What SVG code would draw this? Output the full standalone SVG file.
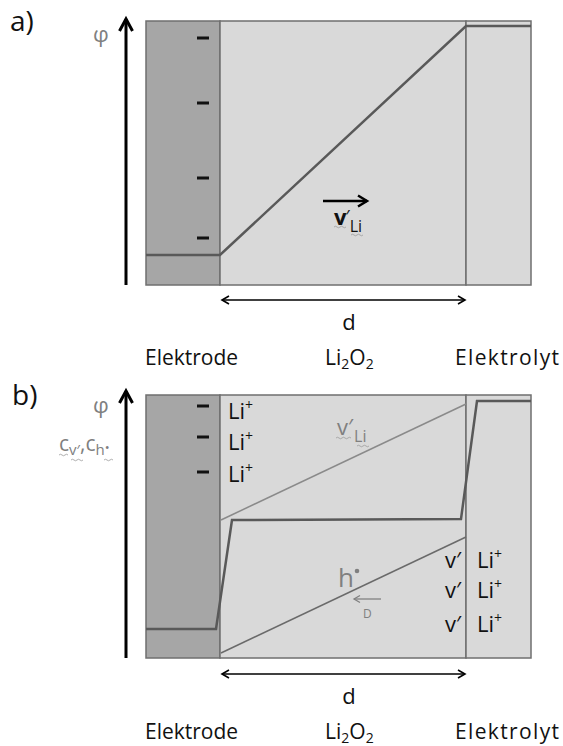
<svg xmlns="http://www.w3.org/2000/svg" width="563" height="746" viewBox="0 0 563 746">
<defs>
<style>
text{font-family:"Open Sans","Noto Sans","Liberation Sans",sans-serif;}
.el{fill:#a6a6a6;stroke:#6f6f6f;stroke-width:1.5;}
.li{fill:#d9d9d9;stroke:#6f6f6f;stroke-width:1.5;}
.curve{fill:none;stroke:#595959;stroke-width:2.5;stroke-linejoin:miter;}
.thin{fill:none;stroke:#6a6a6a;stroke-width:1.5;}
.grey{fill:#808080;}
.blk{fill:#111;}
.dash{stroke:#111;stroke-width:3;}
.wave{fill:none;stroke:#9a9a9a;stroke-width:0.8;}
.lbl{font-size:21px;}
</style>
<marker id="ax" markerUnits="userSpaceOnUse" viewBox="-16 -10 20 20" markerWidth="20" markerHeight="20" refX="0" refY="0" orient="auto" overflow="visible">
<path d="M-12,-6.5 L0,0 L-12,6.5" fill="none" stroke="#000" stroke-width="3"/>
</marker>
<marker id="dm" markerUnits="userSpaceOnUse" viewBox="-10 -6 12 12" markerWidth="12" markerHeight="12" refX="0" refY="0" orient="auto-start-reverse" overflow="visible">
<path d="M-7,-4 L0,0 L-7,4" fill="none" stroke="#000" stroke-width="1.6"/>
</marker>
<marker id="vm" markerUnits="userSpaceOnUse" viewBox="-12 -8 14 16" markerWidth="14" markerHeight="16" refX="0" refY="0" orient="auto" overflow="visible">
<path d="M-9,-5.5 L0,0 L-9,5.5" fill="none" stroke="#000" stroke-width="2.5"/>
</marker>
<marker id="gm" markerUnits="userSpaceOnUse" viewBox="-8 -5 10 10" markerWidth="10" markerHeight="10" refX="0" refY="0" orient="auto" overflow="visible">
<path d="M-6,-3.5 L0,0 L-6,3.5" fill="none" stroke="#808080" stroke-width="1.3"/>
</marker>
</defs>

<!-- Panel a -->
<g id="panel-a">
<text x="10" y="31" font-size="28" class="blk">a)</text>
<text x="101" y="42" font-size="22" text-anchor="middle" class="grey">φ</text>
<g id="a-electrode"><rect class="el" x="146" y="21" width="74" height="264"/></g>
<g id="a-li2o2"><rect class="li" x="220" y="21" width="246" height="264"/></g>
<g id="a-electrolyte"><rect class="li" x="466" y="21" width="65" height="264"/></g>
<g id="a-charges">
<line class="dash" x1="197" y1="38" x2="209" y2="38"/>
<line class="dash" x1="197" y1="103" x2="209" y2="103"/>
<line class="dash" x1="197" y1="178" x2="209" y2="178"/>
<line class="dash" x1="197" y1="238" x2="209" y2="238"/>
</g>
<g id="a-vLi">
<text x="334" y="225" font-size="22" class="blk"><tspan font-weight="bold">v</tspan><tspan dx="-1" dy="-2" font-size="18">′</tspan><tspan dx="0" dy="9" font-size="16">Li</tspan></text>
<path class="wave" d="M334,227 q1.5,-1.5 3,0 t3,0 t3,0 t3,0"/>
<path class="wave" d="M351,235 q1.5,-1.5 3,0 t3,0 t3,0 t3,0"/>
</g>
</g>

<!-- Panel b -->
<g id="panel-b">
<text x="12" y="405" font-size="28" class="blk">b)</text>
<text x="101" y="413" font-size="22" text-anchor="middle" class="grey">φ</text>
<g id="b-conc-label">
<text x="59" y="451" font-size="21" class="grey">c<tspan font-size="15" dy="4">v′</tspan><tspan dy="-4">,c</tspan><tspan font-size="15" dy="4">h</tspan><tspan font-size="13" dy="-3">•</tspan></text>
<path class="wave" d="M59,455 q1.5,-1.5 3,0 t3,0 t3,0"/>
<path class="wave" d="M71,460 q1.5,-1.5 3,0 t3,0 t3,0 t3,0"/>
<path class="wave" d="M104,460 q1.5,-1.5 3,0 t3,0 t3,0"/>
</g>
<g id="b-electrode"><rect class="el" x="146" y="395" width="74" height="263"/></g>
<g id="b-li2o2"><rect class="li" x="220" y="395" width="246" height="263"/></g>
<g id="b-electrolyte"><rect class="li" x="466" y="395" width="65" height="263"/></g>
<g id="b-charges">
<line class="dash" x1="197" y1="406" x2="209" y2="406"/>
<line class="dash" x1="197" y1="437" x2="209" y2="437"/>
<line class="dash" x1="197" y1="472" x2="209" y2="472"/>
<text x="228" y="419" font-size="22" class="blk">Li<tspan font-size="14" dy="-9">+</tspan></text>
<text x="228" y="450" font-size="22" class="blk">Li<tspan font-size="14" dy="-9">+</tspan></text>
<text x="228" y="482" font-size="22" class="blk">Li<tspan font-size="14" dy="-9">+</tspan></text>
</g>
<g id="b-vLi-label">
<text x="337" y="435" font-size="22" class="grey">v′<tspan dx="1" dy="7" font-size="16">Li</tspan></text>
<path class="wave" d="M336,438 q1.5,-1.5 3,0 t3,0 t3,0 t3,0 t3,0"/>
<path class="wave" d="M357,446 q1.5,-1.5 3,0 t3,0 t3,0 t3,0"/>
</g>
<g id="b-h-label">
<text x="338" y="587" font-size="26" class="grey">h</text>
<circle cx="357" cy="571" r="2.3" fill="#808080"/>
<line x1="381" y1="599" x2="354" y2="599" stroke="#808080" stroke-width="1.3" marker-end="url(#gm)"/>
<text x="363" y="618" font-size="12" class="grey">D</text>
</g>
<g id="b-vacancies">
<text x="445" y="568" font-size="22" class="blk">v′</text>
<text x="477" y="568" font-size="22" class="blk">Li<tspan font-size="14" dy="-9">+</tspan></text>
<text x="445" y="598" font-size="22" class="blk">v′</text>
<text x="477" y="598" font-size="22" class="blk">Li<tspan font-size="14" dy="-9">+</tspan></text>
<text x="445" y="632" font-size="22" class="blk">v′</text>
<text x="477" y="632" font-size="22" class="blk">Li<tspan font-size="14" dy="-9">+</tspan></text>
</g>
</g>

<!-- Connectors / curves / axes -->
<g id="connectors">
<polyline class="curve" points="146,255 220,255 466,26 531,26"/>
<line x1="126" y1="285" x2="126" y2="19" stroke="#000" stroke-width="3" marker-end="url(#ax)"/>
<line x1="323" y1="201" x2="367" y2="201" stroke="#000" stroke-width="2.5" marker-end="url(#vm)"/>
<line x1="222" y1="300" x2="465" y2="300" stroke="#000" stroke-width="1.6" marker-start="url(#dm)" marker-end="url(#dm)"/>

<line x1="221" y1="520" x2="466" y2="404" stroke="#8a8a8a" stroke-width="1.5"/>
<line class="thin" x1="221" y1="653" x2="466" y2="537"/>
<polyline class="curve" points="146,629 216,629 232,520 461,519 477,401 531,401"/>
<line x1="126" y1="658" x2="126" y2="391" stroke="#000" stroke-width="3" marker-end="url(#ax)"/>
<line x1="222" y1="674" x2="465" y2="674" stroke="#000" stroke-width="1.6" marker-start="url(#dm)" marker-end="url(#dm)"/>
</g>

<!-- Bottom labels -->
<g id="labels-a">
<text x="349" y="330" font-size="22" text-anchor="middle" class="blk">d</text>
<text x="145" y="365" class="lbl blk">Elektrode</text>
<text x="325" y="365" font-size="21" class="blk">Li<tspan font-size="14" dy="4">2</tspan><tspan dy="-4">O</tspan><tspan font-size="14" dy="4">2</tspan></text>
<text x="455" y="365" class="lbl blk" textLength="104" lengthAdjust="spacing">Elektrolyt</text>
</g>
<g id="labels-b">
<text x="349" y="704" font-size="22" text-anchor="middle" class="blk">d</text>
<text x="145" y="739" class="lbl blk">Elektrode</text>
<text x="325" y="739" font-size="21" class="blk">Li<tspan font-size="14" dy="4">2</tspan><tspan dy="-4">O</tspan><tspan font-size="14" dy="4">2</tspan></text>
<text x="455" y="739" class="lbl blk" textLength="104" lengthAdjust="spacing">Elektrolyt</text>
</g>
</svg>
